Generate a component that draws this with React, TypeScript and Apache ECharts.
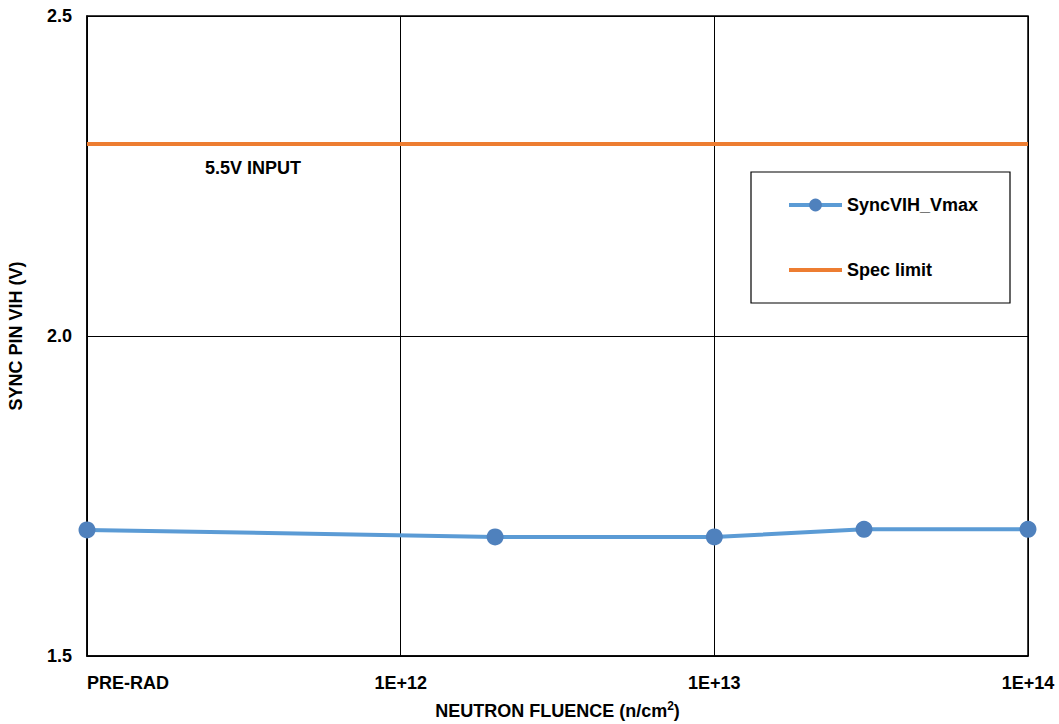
import React, { useEffect, useRef } from "react";
import * as echarts from "echarts";

const fluence = [1e11, 2e12, 1e13, 3e13, 1e14];
const vihValues = [1.697, 1.686, 1.686, 1.698, 1.698];
const specX = [1e11, 1e14];
const specValues = [2.3, 2.3];
const seriesNames = ["SyncVIH_Vmax", "Spec limit"];
const yTicks = { min: 1.5, max: 2.5, interval: 0.5 };
const xTickLabels: Record<string, string> = {
  "100000000000": "PRE-RAD",
  "1000000000000": "1E+12",
  "10000000000000": "1E+13",
  "100000000000000": "1E+14",
};

const FONT = "'Liberation Sans', Arial, sans-serif";
const FS = 18;

export default function App() {
  const ref = useRef<HTMLDivElement>(null);
  useEffect(() => {
    if (!ref.current) return;
    const chart = echarts.init(ref.current, null, { renderer: "svg" });
    chart.setOption({
      animation: false,
      backgroundColor: "#ffffff",
      textStyle: { fontFamily: FONT },
      grid: {
        left: 87, top: 16, width: 941, height: 640, show: true,
        borderColor: "#000", borderWidth: 1.5,
        outerBoundsMode: "none", containLabel: false,
      },
      xAxis: {
        type: "log",
        logBase: 10,
        min: 1e11,
        max: 1e14,
        name: "{t|NEUTRON FLUENCE (n/cm}{s|2}{t|)}",
        nameLocation: "middle",
        nameGap: 44,
        nameTextStyle: {
          fontSize: FS, fontWeight: "bold", color: "#000", fontFamily: FONT,
          rich: {
            t: { fontSize: FS, fontWeight: "bold", color: "#000", fontFamily: FONT, verticalAlign: "bottom", lineHeight: 20 },
            s: { fontSize: 12, fontWeight: "bold", color: "#000", fontFamily: FONT, verticalAlign: "top", lineHeight: 20, padding: [0, 0, 8, 0] },
          },
        },
        axisLine: { show: true, lineStyle: { color: "#000", width: 1.5 } },
        axisTick: { show: false },
        splitLine: { show: true, lineStyle: { color: "#000", width: 1 } },
        axisLabel: {
          color: "#000",
          fontSize: FS,
          fontWeight: "bold",
          fontFamily: FONT,
          margin: 18,
          alignMinLabel: "left",
          formatter: (v: number) => {
            const key = String(Math.round(v));
            return xTickLabels[key] ?? "1E+" + Math.round(Math.log10(v));
          },
        },
      },
      yAxis: {
        type: "value",
        min: yTicks.min,
        max: yTicks.max,
        interval: yTicks.interval,
        name: "SYNC PIN VIH (V)",
        nameLocation: "middle",
        nameGap: 62,
        nameTextStyle: { fontSize: FS, fontWeight: "bold", color: "#000", fontFamily: FONT },
        axisLine: { show: true, lineStyle: { color: "#000", width: 1.5 } },
        axisTick: { show: false },
        splitLine: { show: true, lineStyle: { color: "#000", width: 1 } },
        axisLabel: {
          color: "#000",
          fontSize: FS,
          fontWeight: "bold",
          fontFamily: FONT,
          margin: 15,
          formatter: (v: number) => v.toFixed(1),
        },
      },
      legend: {
        orient: "vertical",
        left: 787,
        top: 196,
        padding: 0,
        itemWidth: 53,
        itemHeight: 16,
        itemGap: 47,
        textStyle: { fontSize: FS, fontWeight: "bold", color: "#000", fontFamily: FONT },
        data: [
          { name: seriesNames[0], lineStyle: { width: 4 } },
          { name: seriesNames[1], icon: "path://M0,0 L53,0 L53,4 L0,4 Z", itemStyle: { color: "#ED7D31" } },
        ],
      },
      graphic: [
        {
          type: "rect",
          shape: { x: 751, y: 172, width: 259, height: 131 },
          style: { fill: "none", stroke: "#000", lineWidth: 1.2 },
          z: 100,
        },
        {
          type: "text",
          x: 253,
          y: 168,
          style: {
            text: "5.5V INPUT",
            fontSize: FS,
            fontWeight: "bold",
            fontFamily: FONT,
            fill: "#000",
            align: "center",
            verticalAlign: "middle",
          },
          z: 100,
        },
      ],
      series: [
        {
          name: seriesNames[0],
          type: "line",
          data: fluence.map((x, i) => [x, vihValues[i]]),
          symbol: "circle",
          symbolSize: 17,
          lineStyle: { color: "#5B9BD5", width: 4 },
          itemStyle: { color: "#4F81BD" },
          z: 5,
        },
        {
          name: seriesNames[1],
          type: "line",
          data: specX.map((x, i) => [x, specValues[i]]),
          symbol: "none",
          lineStyle: { color: "#ED7D31", width: 4 },
          itemStyle: { color: "#ED7D31" },
          z: 4,
        },
      ],
    });
    return () => chart.dispose();
  }, []);
  return (
    <div
      ref={ref}
      style={{ position: "fixed", left: 0, top: 0, width: 1059, height: 724, background: "#fff" }}
    />
  );
}
